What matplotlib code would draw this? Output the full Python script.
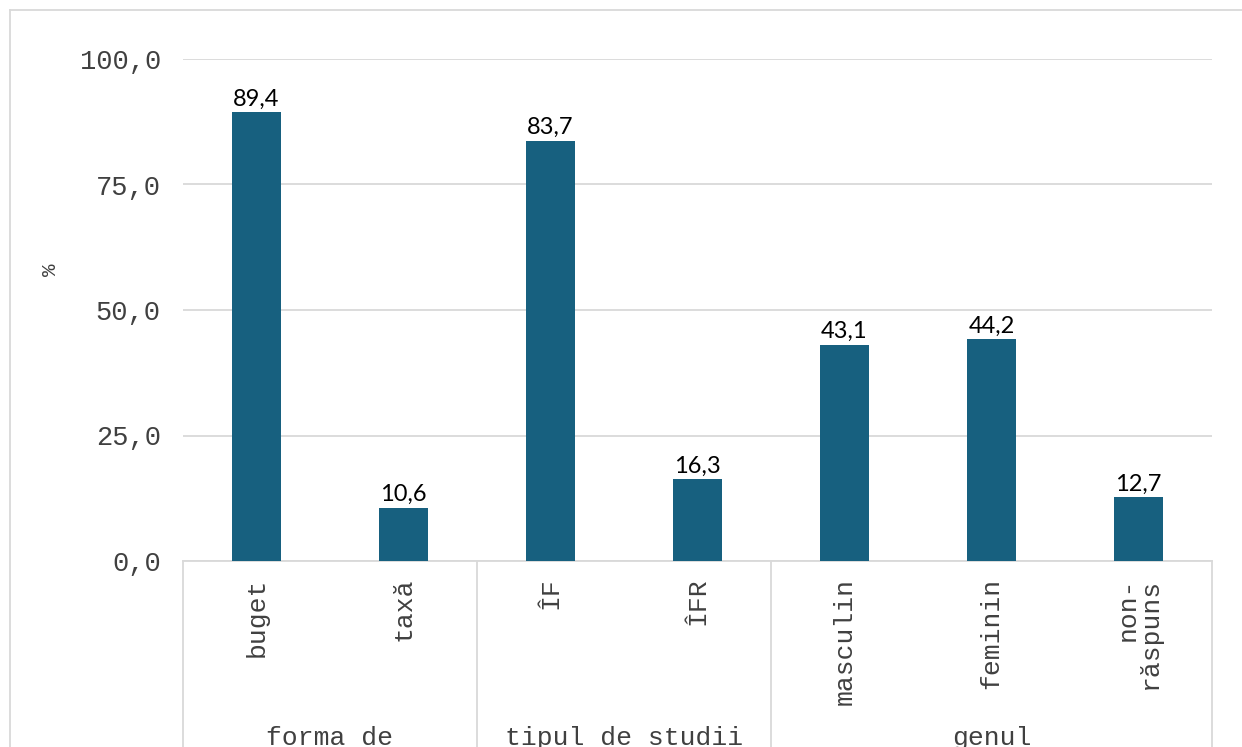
import matplotlib
matplotlib.use("Agg")
import matplotlib.pyplot as plt
from matplotlib.transforms import blended_transform_factory
from matplotlib.lines import Line2D

categories = ["buget", "taxă", "ÎF", "ÎFR", "masculin", "feminin", "non-\nrăspuns"]
values = [89.4, 10.6, 83.7, 16.3, 43.1, 44.2, 12.7]
groups = ["forma de\nfinanțare", "tipul de studii", "genul"]
group_sizes = [2, 2, 3]
yticks = [0, 25, 50, 75, 100]

mono = "Liberation Mono"
bar_color = "#17607F"
grid_color = "#D9D9D9"
text_color = "#404040"

fig = plt.figure(figsize=(12.42, 7.47), dpi=100)
ax = fig.add_axes([183/1242, 1-561/747, (1212-183)/1242, (561-59)/747])

x = list(range(len(categories)))
ax.bar(x, values, width=0.33, color=bar_color, zorder=3)
for xi, v in zip(x, values):
    ax.text(xi, v + 0.5, f"{v:.1f}".replace(".", ","), ha="center", va="bottom",
            fontsize=17, family="Lato", color="black", zorder=4)

ax.set_xlim(-0.5, len(categories) - 0.5)
ax.set_ylim(0, 100)
ax.set_yticks(yticks)
ax.set_yticklabels([f"{t:.1f}".replace(".", ",") for t in yticks], family=mono, fontsize=19.5, color=text_color)
ax.tick_params(axis="y", length=0, pad=16)
ax.yaxis.grid(True, color=grid_color, linewidth=1.3, zorder=0)
ax.set_xticks([])
for s in ["top", "right", "left"]:
    ax.spines[s].set_visible(False)
ax.spines["bottom"].set_color(grid_color)
ax.spines["bottom"].set_linewidth(1.3)

ax.set_ylabel("%", family=mono, fontsize=15, color=text_color)
ax.yaxis.set_label_coords((60 - 183) / 1029, (561 - 270) / 502)

trans = blended_transform_factory(ax.transData, ax.transAxes)
for xi, c in zip(x, categories):
    ax.text(xi, -0.033, c, rotation=90, ha="center", va="top", family=mono, fontsize=19,
            color=text_color, transform=trans, multialignment="right", linespacing=0.9)

# group separators and labels
pos = -0.5
bounds = [pos]
for gs in group_sizes:
    pos += gs
    bounds.append(pos)
for b in bounds:
    ax.add_line(Line2D([b, b], [0, -0.4], transform=trans, color=grid_color, linewidth=1.3, clip_on=False))
for i, g in enumerate(groups):
    cx = (bounds[i] + bounds[i + 1]) / 2
    ax.text(cx, -0.328, g, ha="center", va="top", family=mono, fontsize=19,
            color=text_color, transform=trans)

# outer chart frame
fig.add_artist(Line2D([10/1242, 1.0], [1-10/747, 1-10/747], transform=fig.transFigure, color=grid_color, linewidth=1.3))
fig.add_artist(Line2D([10/1242, 10/1242], [0, 1-10/747], transform=fig.transFigure, color=grid_color, linewidth=1.3))

fig.savefig("out.png", dpi=100)
